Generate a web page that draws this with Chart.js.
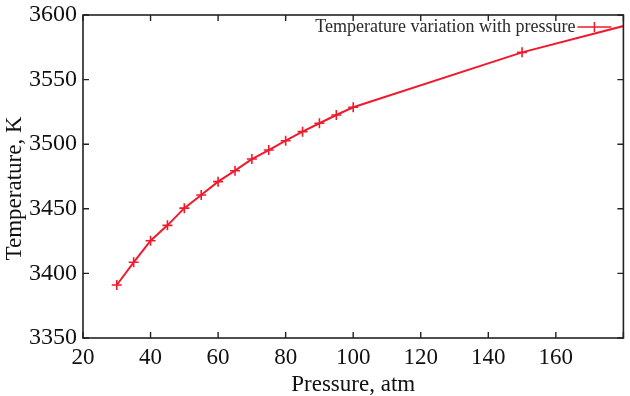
<!DOCTYPE html>
<html>
<head>
<meta charset="utf-8">
<script src="https://cdn.jsdelivr.net/npm/chart.js@4"></script>
<style>
  html, body { margin: 0; padding: 0; background: #ffffff; }
  #wrap { width: 630px; height: 396px; position: relative; }
</style>
</head>
<body>
<div id="wrap"><canvas id="c" width="630" height="396"></canvas></div>
<script>
// ---- data ----
const pressure    = [30, 35, 40, 45, 50, 55, 60, 65, 70, 75, 80, 85, 90, 95, 100, 150, 200];
const temperature = [3391, 3408.6, 3425.3, 3437.2, 3450.5, 3460.7, 3471, 3479.5, 3488.5, 3495.5, 3502.7, 3509.7, 3516.2, 3522.6, 3528.6, 3571.1, 3605];
const xTickLabels = [20, 40, 60, 80, 100, 120, 140, 160];
const yTickLabels = [3350, 3400, 3450, 3500, 3550, 3600];
const seriesLabel = 'Temperature variation with pressure';
const xTitle = 'Pressure, atm';
const yTitle = 'Temperature, K';

const RED = '#f01a2c';
const SERIF = "'Liberation Serif', 'DejaVu Serif', serif";

const framePlugin = {
  id: 'frame',
  afterDraw(chart) {
    const { ctx, chartArea: a, scales } = chart;
    ctx.save();
    ctx.strokeStyle = '#222';
    ctx.lineWidth = 1.6;
    ctx.strokeRect(a.left, a.top, a.right - a.left, a.bottom - a.top);
    ctx.lineWidth = 1.4;
    const tl = 6;
    ctx.beginPath();
    scales.x.ticks.forEach(t => {
      const px = scales.x.getPixelForValue(t.value);
      ctx.moveTo(px, a.bottom); ctx.lineTo(px, a.bottom - tl);
      ctx.moveTo(px, a.top); ctx.lineTo(px, a.top + tl);
    });
    scales.y.ticks.forEach(t => {
      const py = scales.y.getPixelForValue(t.value);
      ctx.moveTo(a.left, py); ctx.lineTo(a.left + tl, py);
      ctx.moveTo(a.right, py); ctx.lineTo(a.right - tl, py);
    });
    ctx.stroke();

    // y-axis title (rotated), slightly below the axis centre as in the reference
    ctx.save();
    ctx.translate(15, (a.top + a.bottom) / 2 + 12);
    ctx.rotate(-Math.PI / 2);
    ctx.font = "23px " + SERIF;
    ctx.fillStyle = '#111';
    ctx.textAlign = 'center';
    ctx.textBaseline = 'middle';
    ctx.fillText(yTitle, 0, 0);
    ctx.restore();

    // legend inside the plot, top right
    const ds = chart.data.datasets[0];
    const ly = a.top + 12;
    const lineStart = a.right - 46, lineEnd = a.right - 12;
    ctx.font = "18px " + SERIF;
    ctx.fillStyle = '#2a2a2a';
    ctx.textAlign = 'right';
    ctx.textBaseline = 'middle';
    ctx.fillText(ds.label, lineStart - 2, ly);
    ctx.strokeStyle = RED;
    ctx.lineWidth = 1.5;
    ctx.beginPath();
    ctx.moveTo(lineStart, ly); ctx.lineTo(lineEnd, ly);
    const mx = (lineStart + lineEnd) / 2;
    ctx.moveTo(mx, ly - 5); ctx.lineTo(mx, ly + 5);
    ctx.stroke();
    ctx.restore();
  }
};

new Chart(document.getElementById('c'), {
  type: 'line',
  data: {
    datasets: [{
      label: seriesLabel,
      data: pressure.map((p, i) => ({ x: p, y: temperature[i] })),
      borderColor: RED,
      backgroundColor: RED,
      borderWidth: 2,
      pointStyle: 'cross',
      pointRadius: 5,
      pointBorderWidth: 1.6,
      pointBorderColor: RED,
      tension: 0,
      fill: false
    }]
  },
  options: {
    responsive: false,
    animation: false,
    events: [],
    layout: { padding: { top: 15, right: 3, left: 0, bottom: 0 } },
    plugins: {
      legend: { display: false },
      tooltip: { enabled: false }
    },
    scales: {
      x: {
        type: 'linear',
        min: 20, max: 180,
        afterBuildTicks(scale) {
          scale.ticks = xTickLabels.concat([180]).map(v => ({ value: v }));
        },
        afterFit(scale) { scale.paddingLeft = 0; scale.paddingRight = 0; scale.height = 58; },
        ticks: {
          color: '#111',
          font: { family: SERIF, size: 23 },
          padding: 6,
          maxRotation: 0,
          autoSkip: false,
          callback: v => xTickLabels.includes(v) ? String(v) : ''
        },
        grid: { display: false, drawTicks: false },
        border: { display: false },
        title: {
          display: true, text: xTitle, color: '#111',
          font: { family: SERIF, size: 23, lineHeight: 1.0 },
          padding: { top: 0, bottom: 0 }
        }
      },
      y: {
        type: 'linear',
        min: 3350, max: 3600,
        afterBuildTicks(scale) {
          scale.ticks = yTickLabels.map(v => ({ value: v }));
        },
        afterFit(scale) { scale.width = 83; scale.paddingTop = 0; scale.paddingBottom = 0; },
        ticks: {
          color: '#111',
          font: { family: SERIF, size: 24 },
          padding: 6,
          autoSkip: false,
          callback: v => String(v)
        },
        grid: { display: false, drawTicks: false },
        border: { display: false },
        title: { display: false, text: yTitle }
      }
    }
  },
  plugins: [framePlugin]
});
</script>
</body>
</html>
